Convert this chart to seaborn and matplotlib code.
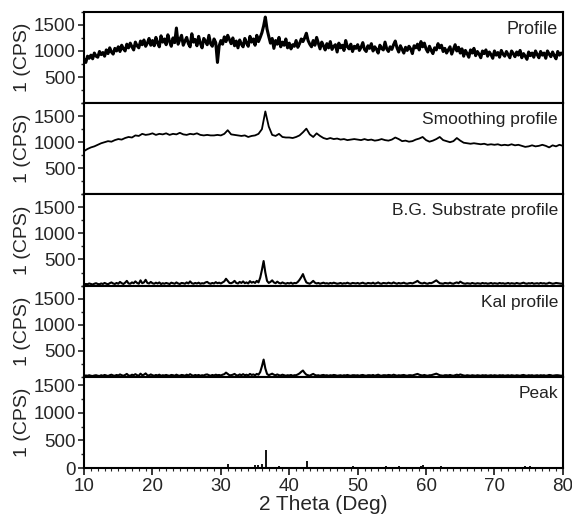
import matplotlib
matplotlib.use('Agg')
import matplotlib.pyplot as plt
import numpy as np
import seaborn as sns
from matplotlib.ticker import MultipleLocator

sns.set_style('ticks')
plt.rcParams['font.family'] = ['Liberation Sans', 'DejaVu Sans']

# 2 theta grid used by the measured curves (0.25 deg steps, 10..80)
two_theta = np.arange(281) * 0.25 + 10

# raw measured profile
profile = [
    840, 780, 900, 860, 920, 850, 960, 900, 880, 990, 930, 970, 900, 1020, 950, 1060, 980, 940, 1050, 1000,
    1080, 990, 1110, 1040, 1000, 1130, 1060, 1150, 1080, 1020, 1170, 1100, 1060, 1190, 1120, 1210, 1090, 1150, 1240, 1110,
    1200, 1100, 1260, 1150, 1080, 1290, 1170, 1230, 1120, 1310, 1180, 1090, 1250, 1160, 1440, 1130, 1220, 1300, 1110, 1190,
    1260, 1140, 1080, 1330, 1170, 1220, 1100, 1280, 1150, 1060, 1240, 1190, 1120, 1300, 1140, 1090, 1230, 1160, 780, 1100,
    1200, 1130, 1270, 1180, 1300, 1220, 1140, 1250, 1100, 1190, 1060, 1210, 1130, 1080, 1240, 1150, 1090, 1280, 1170, 1230,
    1110, 1300, 1180, 1260, 1350, 1480, 1650, 1420, 1280, 1150, 1240, 1050, 1200, 1130, 1260, 1080, 1170, 1110, 1230, 1060,
    1150, 1040, 1120, 1090, 1200, 1070, 1140, 1230, 1180, 1250, 1340, 1200, 1130, 1080, 1200, 1110, 1260, 1150, 1040, 1170,
    1100, 1020, 1140, 1060, 1180, 1030, 1090, 1120, 980, 1150, 1060, 1110, 1010, 1200, 1080, 1040, 1130, 990, 1090, 1050,
    1120, 1010, 1070, 1160, 1030, 990, 1100, 1050, 1140, 1000, 1080, 1030, 960, 1110, 1050, 1020, 1170, 1040, 990, 1080,
    1030, 1120, 1190, 1060, 980, 1100, 1030, 960, 1070, 1010, 1090, 1040, 950, 1100, 1060, 1130, 1020, 1180, 1080, 1150,
    1040, 980, 1090, 1010, 950, 1060, 1020, 1140, 1060, 1110, 990, 1050, 960, 1020, 1080, 940, 1030, 1120, 1000, 1070,
    960, 1040, 900, 1010, 950, 880, 1020, 960, 1050, 910, 990, 940, 870, 1000, 950, 1020, 900, 980, 930, 860,
    1000, 920, 970, 880, 1010, 940, 900, 990, 930, 870, 1000, 950, 890, 980, 920, 1010, 870, 950, 900, 840,
    980, 910, 960, 880, 1000, 930, 870, 990, 920, 960, 860, 1000, 940, 890, 980, 910, 850, 990, 920, 960,
    930,
]

# smoothed profile (0.5 deg steps)
smooth_theta = np.arange(141) * 0.5 + 10
smoothing = [
    830, 870, 900, 920, 950, 980, 1000, 1020, 1010, 1040,
    1060, 1050, 1080, 1100, 1090, 1130, 1120, 1160, 1140, 1150,
    1170, 1140, 1160, 1150, 1170, 1140, 1160, 1150, 1180, 1150,
    1140, 1160, 1150, 1170, 1140, 1130, 1140, 1130, 1130, 1140,
    1130, 1160, 1230, 1150, 1140, 1130, 1120, 1130, 1100, 1120,
    1130, 1160, 1250, 1590, 1300, 1140, 1120, 1160, 1100, 1090,
    1090, 1080, 1100, 1130, 1190, 1260, 1150, 1100, 1170, 1120,
    1080, 1060, 1080, 1060, 1070, 1050, 1060, 1040, 1050, 1060,
    1050, 1040, 1060, 1040, 1050, 1030, 1040, 1060, 1040, 1030,
    1050, 1090, 1060, 1020, 1030, 1010, 1020, 1050, 1070, 1100,
    1040, 1010, 1030, 1060, 1100, 1040, 1020, 1000, 1020, 1080,
    1030, 990, 980, 970, 980, 970, 960, 970, 950, 960,
    950, 960, 940, 950, 940, 960, 940, 950, 930, 910,
    920, 940, 920, 930, 950, 930, 900, 940, 920, 950,
    930,
]

# background subtracted profile
bg_substrate = [
    20, 30, 25, 40, 30, 20, 35, 45, 30, 25, 40, 30, 50, 35, 25, 45, 60, 40, 30, 50,
    35, 70, 45, 30, 55, 90, 40, 35, 60, 45, 80, 50, 35, 100, 45, 60, 110, 50, 40, 70,
    45, 35, 55, 40, 60, 30, 45, 35, 50, 40, 30, 55, 45, 35, 60, 40, 30, 50, 45, 35,
    60, 40, 80, 45, 35, 50, 40, 55, 35, 45, 40, 60, 70, 45, 35, 50, 40, 65, 45, 55,
    40, 60, 80, 130, 90, 50, 45, 60, 90, 50, 40, 70, 50, 80, 45, 60, 40, 85, 55, 70,
    50, 90, 60, 150, 300, 470, 250, 90, 50, 70, 100, 60, 45, 75, 50, 40, 60, 45, 35, 50,
    40, 55, 35, 50, 45, 70, 110, 160, 220, 130, 60, 45, 35, 60, 90, 55, 40, 50, 35, 45,
    55, 40, 45, 35, 50, 40, 55, 45, 35, 40, 50, 35, 45, 40, 55, 40, 35, 50, 45, 40,
    50, 35, 45, 55, 40, 35, 50, 45, 40, 55, 35, 45, 60, 40, 35, 50, 45, 40, 55, 45,
    40, 60, 45, 35, 50, 40, 45, 55, 40, 35, 45, 50, 40, 55, 70, 90, 60, 45, 40, 55,
    40, 35, 50, 45, 60, 80, 100, 70, 45, 40, 35, 50, 45, 40, 55, 40, 35, 50, 60, 45,
    75, 55, 40, 35, 45, 40, 35, 50, 40, 35, 45, 40, 35, 50, 40, 45, 35, 40, 50, 35,
    45, 40, 35, 50, 40, 45, 35, 40, 50, 35, 45, 40, 35, 50, 40, 35, 45, 55, 40, 35,
    45, 40, 50, 35, 40, 45, 35, 50, 40, 45, 35, 40, 55, 45, 35, 40, 50, 45, 40, 35,
    40,
]

# K-alpha1 profile
kal = [
    15, 25, 20, 30, 20, 15, 25, 30, 20, 15, 30, 20, 35, 25, 15, 30, 40, 25, 20, 35,
    25, 45, 30, 20, 35, 55, 25, 20, 40, 30, 50, 30, 20, 60, 30, 40, 65, 30, 25, 45,
    30, 20, 35, 25, 40, 20, 30, 25, 35, 25, 20, 35, 30, 20, 40, 25, 20, 35, 30, 20,
    40, 25, 50, 30, 20, 35, 25, 35, 20, 30, 25, 40, 45, 30, 20, 35, 25, 40, 30, 35,
    25, 40, 50, 80, 55, 30, 30, 40, 55, 30, 25, 45, 30, 50, 30, 40, 25, 55, 35, 45,
    30, 55, 40, 90, 200, 330, 160, 55, 30, 45, 60, 40, 30, 45, 30, 25, 40, 30, 20, 30,
    25, 35, 20, 30, 30, 45, 65, 95, 120, 75, 40, 30, 20, 40, 55, 35, 25, 30, 20, 30,
    35, 25, 30, 20, 30, 25, 35, 30, 20, 25, 30, 20, 30, 25, 35, 25, 20, 30, 30, 25,
    30, 20, 30, 35, 25, 20, 30, 30, 25, 35, 20, 30, 40, 25, 20, 30, 30, 25, 35, 30,
    25, 40, 30, 20, 30, 25, 30, 35, 25, 20, 30, 30, 25, 35, 45, 55, 40, 30, 25, 35,
    25, 20, 30, 30, 40, 50, 60, 45, 30, 25, 20, 30, 30, 25, 35, 25, 20, 30, 40, 30,
    45, 35, 25, 20, 30, 25, 20, 30, 25, 20, 30, 25, 20, 30, 25, 30, 20, 25, 30, 20,
    30, 25, 20, 30, 25, 30, 20, 25, 30, 20, 30, 25, 20, 30, 25, 20, 30, 35, 25, 20,
    30, 25, 30, 20, 25, 30, 20, 30, 25, 30, 20, 25, 35, 30, 20, 25, 30, 30, 25, 20,
    25,
]

# identified peaks
peak_pos = [31.0, 35.0, 35.5, 36.0, 36.6, 38.5, 42.6, 49.3, 54.2, 56.1, 59.2, 59.6, 62.2, 74.5, 75.2]
peak_int = [70, 50, 60, 70, 330, 40, 120, 30, 40, 30, 40, 50, 30, 30, 30]

labels = ['Profile', 'Smoothing profile', 'B.G. Substrate profile', 'Kal profile', 'Peak']

fig, axes = plt.subplots(5, 1, figsize=(5.72, 5.16), dpi=100, sharex=True)
fig.subplots_adjust(left=0.147, right=0.984, top=0.977, bottom=0.093, hspace=0)

sns.lineplot(x=two_theta, y=profile, ax=axes[0], color='black', lw=2.2)
sns.lineplot(x=smooth_theta, y=smoothing, ax=axes[1], color='black', lw=1.3)
sns.lineplot(x=two_theta, y=bg_substrate, ax=axes[2], color='black', lw=1.5)
sns.lineplot(x=two_theta, y=kal, ax=axes[3], color='black', lw=1.5)
axes[4].vlines(peak_pos, 0, peak_int, color='black', lw=1.3)

for i, ax in enumerate(axes):
    ax.set_xlim(10, 80)
    ax.set_ylim(0, 1750 if i < 4 else 1650)
    ax.set_yticks([500, 1000, 1500] if i < 4 else [0, 500, 1000, 1500])
    ax.yaxis.set_minor_locator(MultipleLocator(250))
    ax.set_ylabel('1 (CPS)', fontsize=14, labelpad=2)
    ax.tick_params(axis='y', which='major', labelsize=13.5, length=4, width=1.2, pad=2)
    ax.tick_params(axis='y', which='minor', length=2.5, width=1.0)
    for sp in ax.spines.values():
        sp.set_linewidth(1.5)
        sp.set_color('black')
    ax.text(0.99, 0.9, labels[i], transform=ax.transAxes, ha='right', va='top',
            fontsize=13 if i == 0 else 12.5, color='#222222')
    if i < 4:
        ax.tick_params(axis='x', which='both', length=0)

axes[4].xaxis.set_major_locator(MultipleLocator(10))
axes[4].xaxis.set_minor_locator(MultipleLocator(1))
axes[4].tick_params(axis='x', which='major', labelsize=13.5, length=5, width=1.3, pad=2)
axes[4].tick_params(axis='x', which='minor', length=2, width=0.8)
axes[4].set_xlabel('2 Theta (Deg)', fontsize=15, labelpad=0)
fig.align_ylabels(axes)

fig.savefig('out.png', dpi=100)
